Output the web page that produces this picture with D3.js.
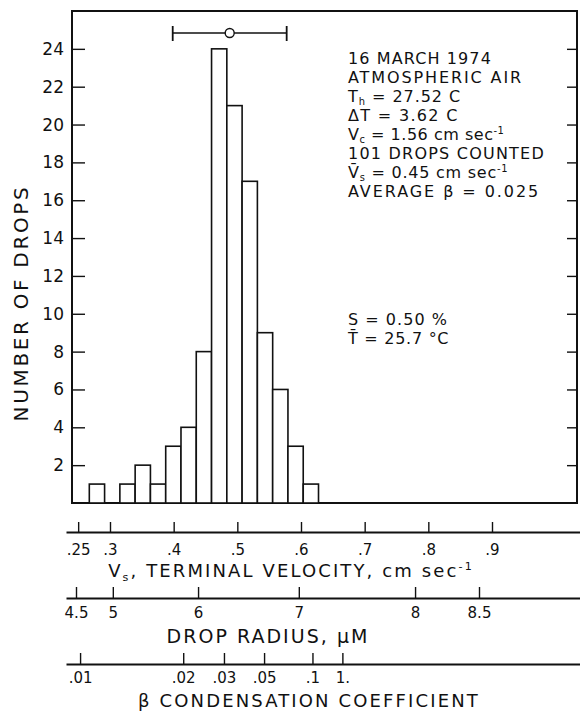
<!DOCTYPE html>
<html>
<head>
<meta charset="utf-8">
<script src="https://cdn.jsdelivr.net/npm/d3@7"></script>
<style>
  html, body { margin: 0; padding: 0; background: #fff; }
  text { font-family: "DejaVu Sans", sans-serif; fill: #111; }
</style>
</head>
<body>
<script>
// histogram counts, one per velocity bin (cm/sec)
const counts = [1, 0, 1, 2, 1, 3, 4, 8, 24, 21, 17, 9, 6, 3, 1];
const binStart = 0.2675;
const binWidth = 0.024;

// mean terminal velocity marker and its spread
const meanV = 0.488;
const spreadV = 0.0895;

const yTicks = [2, 4, 6, 8, 10, 12, 14, 16, 18, 20, 22, 24];

const velocityTicks = [0.25, 0.3, 0.4, 0.5, 0.6, 0.7, 0.8, 0.9];
const velocityLabels = [".25", ".3", ".4", ".5", ".6", ".7", ".8", ".9"];

const radiusTicks = [4.5, 5, 6, 7, 8, 8.5];
const radiusLabels = ["4.5", "5", "6", "7", "8", "8.5"];

// condensation coefficient ticks and the velocity each one sits at
const betaLabels = [".01", ".02", ".03", ".05", ".1", "1."];
const betaVelocity = [0.253, 0.415, 0.479, 0.542, 0.618, 0.665];

const noteLines = [
    [["16 MARCH 1974"]],
    [["ATMOSPHERIC AIR"]],
    [["T"], ["h", "sub"], [" = 27.52  C"]],
    [["\u0394T = 3.62  C"]],
    [["V"], ["c", "sub"], [" = 1.56 cm  sec"], ["-1", "sup"]],
    [["101 DROPS COUNTED"]],
    [["V\u0304"], ["s", "sub"], [" = 0.45 cm  sec"], ["-1", "sup"]],
    [["AVERAGE  \u03B2 = 0.025"]]
];
const noteLines2 = [
    [["S = 0.50 %"]],
    [["T\u0304 = 25.7 \u00B0C"]]
];

const W = 580, H = 712;
const frame = { left: 72, right: 577, top: 11, bottom: 503 };

const svg = d3.select("body").append("svg")
    .attr("width", W)
    .attr("height", H);

const x = d3.scaleLinear().domain([0.3, 0.9]).range([110, 492]);
const y = d3.scaleLinear().domain([0, 26]).range([frame.bottom, frame.top]);

// stretch letter spacing so a label fills the width it has in the original
function fit(sel, target) {
    const w = sel.node().getComputedTextLength();
    const n = sel.text().length;
    sel.attr("letter-spacing", ((target - w) / n).toFixed(2));
    return sel;
}

function richText(parent, segs, size) {
    const t = parent.append("text").attr("font-size", size);
    let shift = 0;
    segs.forEach(([s, kind]) => {
        const want = kind === "sub" ? size * 0.2 : kind === "sup" ? -size * 0.38 : 0;
        t.append("tspan")
            .attr("dy", want - shift)
            .attr("font-size", kind ? size * 0.62 : size)
            .text(s);
        shift = want;
    });
    return t;
}

// frame
svg.append("rect")
    .attr("x", frame.left).attr("y", frame.top)
    .attr("width", frame.right - frame.left)
    .attr("height", frame.bottom - frame.top)
    .attr("fill", "none").attr("stroke", "#111").attr("stroke-width", 2);

// bars
svg.append("g").selectAll("rect")
    .data(counts.map((c, i) => ({ c, x0: binStart + i * binWidth })).filter(d => d.c > 0))
    .join("rect")
    .attr("x", d => x(d.x0))
    .attr("width", d => x(d.x0 + binWidth) - x(d.x0))
    .attr("y", d => y(d.c))
    .attr("height", d => y(0) - y(d.c))
    .attr("fill", "#fff")
    .attr("stroke", "#111")
    .attr("stroke-width", 1.6);

// y ticks inside both sides
const yl = svg.append("g")
    .attr("transform", `translate(${frame.left},0)`)
    .call(d3.axisRight(y).tickValues(yTicks).tickSize(13).tickFormat(""));
yl.select(".domain").remove();
yl.selectAll("line").attr("stroke", "#111").attr("stroke-width", 1.4);

const yr = svg.append("g")
    .attr("transform", `translate(${frame.right},0)`)
    .call(d3.axisLeft(y).tickValues(yTicks).tickSize(10).tickFormat(""));
yr.select(".domain").remove();
yr.selectAll("line").attr("stroke", "#111").attr("stroke-width", 1.4);

svg.append("g").selectAll("text")
    .data(yTicks)
    .join("text")
    .attr("x", 64)
    .attr("y", d => y(d) + 6)
    .attr("text-anchor", "end")
    .attr("font-size", 17)
    .text(d => d);

fit(svg.append("text")
    .attr("transform", "translate(28,303) rotate(-90)")
    .attr("text-anchor", "middle")
    .attr("font-size", 20)
    .text("NUMBER OF DROPS"), 237);

// mean marker with spread
const eb = svg.append("g").attr("stroke", "#111").attr("stroke-width", 1.4);
eb.append("line")
    .attr("x1", x(meanV - spreadV)).attr("x2", x(meanV + spreadV))
    .attr("y1", 33).attr("y2", 33);
[meanV - spreadV, meanV + spreadV].forEach(v => {
    eb.append("line")
        .attr("x1", x(v)).attr("x2", x(v))
        .attr("y1", 26).attr("y2", 41)
        .attr("stroke-width", 1.8);
});
eb.append("circle")
    .attr("cx", x(meanV)).attr("cy", 33).attr("r", 4.5)
    .attr("fill", "#fff");

// annotations
const noteWidths = [144, 175, 114, 112, 157, 197, 162, 194];
noteLines.forEach((segs, i) => {
    const t = richText(svg, segs, 16).attr("x", 348).attr("y", 64 + i * 19);
    fit(t, noteWidths[i]);
});
const noteWidths2 = [100, 102];
noteLines2.forEach((segs, i) => {
    const t = richText(svg, segs, 16).attr("x", 348).attr("y", 325 + i * 19);
    fit(t, noteWidths2[i]);
});

// bottom scales: ticks up, labels below
function styleAxis(g) {
    g.select(".domain").attr("stroke", "#111").attr("stroke-width", 1.8);
    g.selectAll(".tick line").attr("stroke", "#111").attr("stroke-width", 1.4);
    g.selectAll(".tick text").attr("font-size", 15).attr("fill", "#111")
        .attr("font-family", "DejaVu Sans");
}

const xLine = x.copy().domain([x.invert(66), x.invert(580)]).range([66, 580]);

const gv = svg.append("g")
    .attr("transform", "translate(0,532)")
    .call(d3.axisBottom(xLine)
        .tickValues(velocityTicks)
        .tickFormat((d, i) => velocityLabels[i])
        .tickSize(-10).tickSizeOuter(0).tickPadding(12));
styleAxis(gv);

const r = d3.scalePow().exponent(2).domain([4.5, 8.5]).range([76, 479]);
const rLine = r.copy().domain([r.invert(66), r.invert(580)]).range([66, 580]);
const gr = svg.append("g")
    .attr("transform", "translate(0,598)")
    .call(d3.axisBottom(rLine)
        .tickValues(radiusTicks)
        .tickFormat((d, i) => radiusLabels[i])
        .tickSize(-11).tickSizeOuter(0).tickPadding(9));
styleAxis(gr);

const gb = svg.append("g")
    .attr("transform", "translate(0,664)")
    .call(d3.axisBottom(xLine)
        .tickValues(betaVelocity)
        .tickFormat((d, i) => betaLabels[i])
        .tickSize(-11).tickSizeOuter(0).tickPadding(8));
styleAxis(gb);

// axis titles
fit(richText(svg, [["V"], ["s", "sub"], [", TERMINAL VELOCITY, cm  sec"], ["-1", "sup"]], 18)
    .attr("x", 291).attr("y", 577).attr("text-anchor", "middle"), 368);

fit(svg.append("text")
    .attr("x", 268).attr("y", 643)
    .attr("text-anchor", "middle")
    .attr("font-size", 19)
    .text("DROP RADIUS, \u03BCM"), 203);

fit(svg.append("text")
    .attr("x", 309).attr("y", 707)
    .attr("text-anchor", "middle")
    .attr("font-size", 18)
    .text("\u03B2 CONDENSATION COEFFICIENT"), 342);
</script>
</body>
</html>
